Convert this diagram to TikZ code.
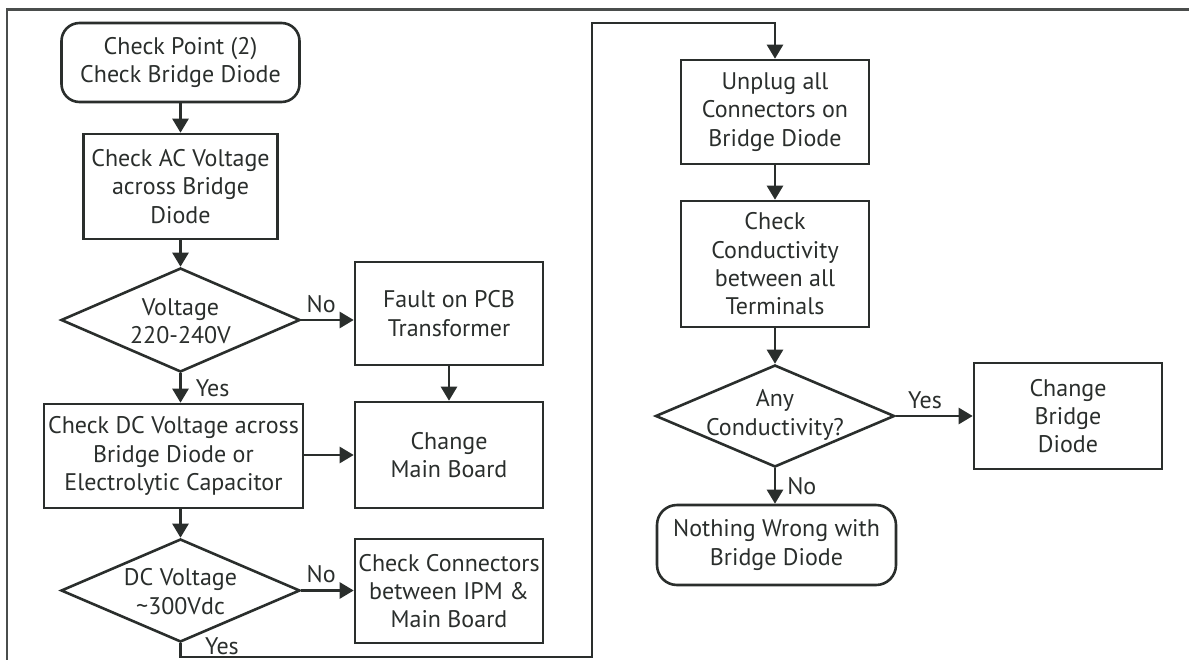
\documentclass[tikz,border=0pt]{standalone}
\usepackage{fontspec}
\setmainfont{PT Sans}
\usetikzlibrary{arrows.meta,shapes.geometric}
\definecolor{ink}{RGB}{42,46,44}
\begin{document}
\begin{tikzpicture}[x=1pt,y=-1pt,
  every node/.style={text=ink,font=\fontsize{24}{28.3}\selectfont},
  box/.style={draw=ink,line width=2.6pt,inner sep=0pt,align=center},
  rbox/.style={box,rounded corners=18pt},
  dia/.style={draw=ink,line width=2.6pt,diamond,inner sep=0pt},
  txt/.style={align=center,inner sep=0pt},
  lab/.style={inner sep=0pt},
  conn/.style={draw=ink,line width=2.6pt,-{Triangle[length=14pt,width=16pt]}},
  frame/.style={draw=ink!85!white,line width=2.2pt}]
\useasboundingbox (0,0) rectangle (1189,659);
\draw[frame] (1195,9.5) -- (7,9.5) -- (7,665);
% left column
\node[rbox,minimum width=238pt,minimum height=79pt] (start) at (180.5,62.5) {Check Point (2)\\Check Bridge Diode};
\node[box,minimum width=194pt,minimum height=105pt] (ac) at (180.5,186.5) {Check AC Voltage\\across Bridge\\Diode};
\node[dia,minimum width=239pt,minimum height=104pt] (v1) at (180.5,320) {};
\node[txt] (v1t) at (180.5,321) {Voltage\\220-240V};
\node[box,minimum width=188pt,minimum height=103pt] (fault) at (449,313.5) {Fault on PCB\\Transformer};
\node[box,minimum width=259pt,minimum height=104pt] (dc) at (173.5,456) {Check DC Voltage across\\Bridge Diode or\\Electrolytic Capacitor};
\node[box,minimum width=188pt,minimum height=106pt] (main) at (449,455) {Change\\Main Board};
\node[dia,minimum width=239pt,minimum height=103pt] (v2) at (180.5,590.5) {};
\node[txt] (v2t) at (180.5,591.5) {DC Voltage\\\textasciitilde300Vdc};
\node[box,minimum width=188pt,minimum height=104pt] (cc) at (449,591) {Check Connectors\\between IPM \&\\Main Board};
% right column
\node[box,minimum width=188pt,minimum height=104pt] (unplug) at (775,112) {Unplug all\\Connectors on\\Bridge Diode};
\node[box,minimum width=188pt,minimum height=126pt] (cond) at (775,264) {Check\\Conductivity\\between all\\Terminals};
\node[dia,minimum width=239pt,minimum height=102pt] (any) at (775,416) {};
\node[txt] (anyt) at (775,415) {Any\\Conductivity?};
\node[box,minimum width=188pt,minimum height=106pt] (cbd) at (1068,416) {Change\\Bridge\\Diode};
\node[rbox,rounded corners=20pt,minimum width=239pt,minimum height=80pt] (nothing) at (776.5,545) {Nothing Wrong with\\Bridge Diode};
% loop coordinates
\coordinate (lb) at (592,657);
\coordinate (lt) at (592,23);
% connectors
\draw[conn] (start.south) -- (start.south |- ac.north);
\draw[conn] (v1.north |- ac.south) -- (v1.north);
\draw[conn] (v1.east) -- (v1.east -| fault.west) node[lab,pos=0.38,above=6pt] (no1) {No};
\draw[conn] (v1.south) -- (v1.south |- dc.north) node[lab,midway,right=14pt] (yes1) {Yes};
\draw[conn] (fault.south) -- (main.north);
\draw[conn] (dc.east |- main.west) -- (main.west);
\draw[conn] (v2.north |- dc.south) -- (v2.north);
\draw[conn] (v2.east) -- (v2.east -| cc.west) node[lab,pos=0.38,above=6pt] (no2) {No};
\draw[conn] (v2.south) |- (lb) -- (lt) -| (unplug.north);
\node[lab] (yes2) at (222,646) {Yes};
\draw[conn] (unplug.south) -- (cond.north);
\draw[conn] (cond.south) -- (any.north);
\draw[conn] (any.east) -- (any.east -| cbd.west) node[lab,pos=0.38,above=6pt] (yes3) {Yes};
\draw[conn] (any.south) -- (any.south |- nothing.north) node[lab,midway,right=11pt] (no3) {No};
\end{tikzpicture}
\end{document}
